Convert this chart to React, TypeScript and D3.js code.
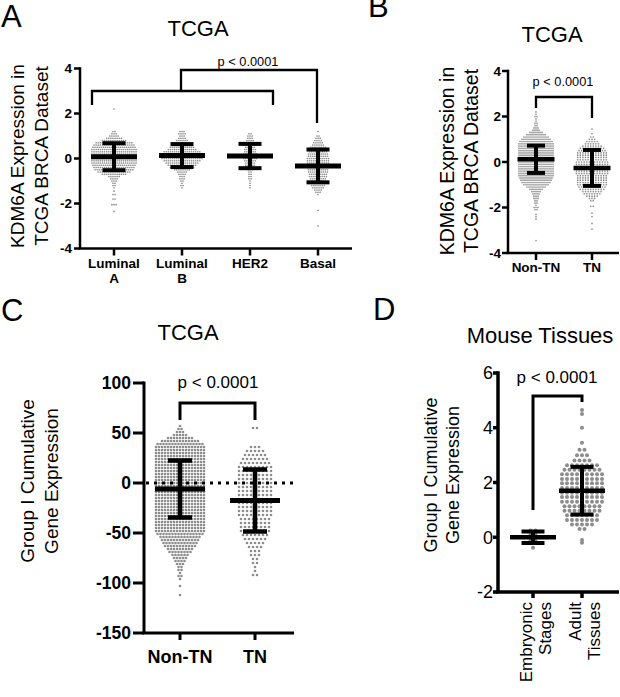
import React from 'react';
import * as d3 from 'd3';

type Bin = [number, number]; // [value, number of dots at that value]

const FONT = '"Liberation Sans", Arial, Helvetica, sans-serif';

// ---------------- Panel A : KDM6A by PAM50 subtype ----------------
const aCategories = ['Luminal A', 'Luminal B', 'HER2', 'Basal'];
const aCategoryLines = [['Luminal', 'A'], ['Luminal', 'B'], ['HER2'], ['Basal']];
const aTicks = [-4, -2, 0, 2, 4];
const aLuminalA: Bin[] = [[2.2,1],[1.2,2],[1.1,3],[1.0,5],[0.9,8],[0.8,12],[0.7,18],[0.6,20],[0.5,21],[0.4,22],[0.3,22],[0.2,22],[0.1,22],[0.0,22],[-0.1,22],[-0.2,22],[-0.3,21],[-0.4,20],[-0.5,19],[-0.6,16],[-0.7,12],[-0.8,6],[-0.9,4],[-1.0,3],[-1.1,2],[-1.2,2],[-1.3,1],[-1.45,1],[-1.6,2],[-1.8,2],[-2.05,3],[-2.35,1]];
const aLuminalB: Bin[] = [[1.2,3],[1.1,4],[1.0,3],[0.9,4],[0.8,6],[0.7,8],[0.6,10],[0.5,12],[0.4,14],[0.3,18],[0.2,20],[0.1,22],[0.0,20],[-0.1,18],[-0.2,16],[-0.3,14],[-0.4,12],[-0.5,8],[-0.6,5],[-0.7,4],[-0.8,3],[-0.9,3],[-1.0,2],[-1.1,1],[-1.2,2],[-1.3,1]];
const aHER2: Bin[] = [[1.1,2],[1.0,3],[0.9,3],[0.8,4],[0.7,5],[0.6,5],[0.5,5],[0.4,6],[0.3,6],[0.2,7],[0.1,7],[0.0,7],[-0.1,6],[-0.2,5],[-0.3,5],[-0.4,4],[-0.5,3],[-0.6,2],[-0.7,2],[-0.8,2],[-0.9,2],[-1.0,1],[-1.1,1],[-1.2,1],[-1.3,1]];
const aBasal: Bin[] = [[1.2,1],[1.0,2],[0.9,3],[0.8,4],[0.7,5],[0.6,6],[0.5,8],[0.4,8],[0.3,9],[0.2,10],[0.1,10],[0.0,11],[-0.1,11],[-0.2,11],[-0.3,12],[-0.4,11],[-0.5,10],[-0.6,10],[-0.7,9],[-0.8,9],[-0.9,8],[-1.0,8],[-1.1,8],[-1.2,7],[-1.3,6],[-1.4,4],[-1.5,3],[-1.6,1],[-2.3,1],[-3.0,1]];
const aMeans = [0.08, 0.13, 0.11, -0.33];
const aSDs = [0.6, 0.51, 0.54, 0.73];

// ---------------- Panel B : Non-TN vs TN ----------------
const bCategories = ['Non-TN', 'TN'];
const bTicks = [-4, -2, 0, 2, 4];
const bNonTN: Bin[] = [[2.2,1],[2.1,1],[2.0,2],[1.9,1],[1.8,1],[1.7,2],[1.6,2],[1.5,3],[1.4,4],[1.3,7],[1.2,10],[1.1,13],[1.0,15],[0.9,17],[0.8,18],[0.7,18],[0.6,18],[0.5,18],[0.4,18],[0.3,18],[0.2,18],[0.1,18],[0.0,18],[-0.1,18],[-0.2,18],[-0.3,18],[-0.4,18],[-0.5,18],[-0.6,18],[-0.7,17],[-0.8,16],[-0.9,15],[-1.0,13],[-1.1,10],[-1.2,7],[-1.3,5],[-1.4,4],[-1.5,3],[-1.6,3],[-1.7,2],[-1.8,2],[-1.9,1],[-2.0,3],[-2.1,2],[-2.3,1],[-2.4,1],[-2.5,1],[-3.45,1]];
const bTN: Bin[] = [[1.45,1],[1.25,1],[1.1,2],[1.0,3],[0.9,5],[0.8,6],[0.7,8],[0.6,10],[0.5,11],[0.4,12],[0.3,12],[0.2,12],[0.1,12],[0.0,13],[-0.1,13],[-0.2,13],[-0.3,13],[-0.4,13],[-0.5,13],[-0.6,12],[-0.7,12],[-0.8,12],[-0.9,12],[-1.0,12],[-1.1,11],[-1.2,10],[-1.3,8],[-1.4,7],[-1.5,5],[-1.6,3],[-1.7,2],[-1.95,2],[-2.25,1],[-2.4,1],[-2.7,1],[-2.95,1]];
const bMeans = [0.12, -0.26];
const bSDs = [0.6, 0.79];

// ---------------- Panel C : Group I cumulative expression, TCGA ----------------
const cCategories = ['Non-TN', 'TN'];
const cTicks = [-150, -100, -50, 0, 50, 100];
const cNonTN: Bin[] = [[57,1],[54,2],[51,3],[48,5],[45,9],[42,13],[39,16],[36,17],[33,17],[30,17],[27,17],[24,17],[21,17],[18,17],[15,17],[12,17],[9,17],[6,17],[3,17],[0,17],[-3,17],[-6,17],[-9,17],[-12,17],[-15,17],[-18,17],[-21,17],[-24,17],[-27,17],[-30,17],[-33,17],[-36,17],[-39,17],[-42,17],[-45,17],[-48,17],[-51,16],[-54,14],[-57,13],[-60,12],[-63,11],[-66,9],[-69,8],[-72,6],[-75,5],[-78,4],[-81,3],[-84,2],[-87,2],[-90,1],[-93,2],[-96,1],[-103,1],[-112,1]];
const cTN: Bin[] = [[55,2],[36,3],[32,5],[28,6],[24,7],[20,8],[16,9],[12,9],[8,9],[4,9],[0,9],[-4,9],[-8,9],[-12,9],[-16,9],[-20,9],[-24,9],[-28,9],[-32,9],[-36,8],[-40,8],[-44,8],[-48,8],[-52,7],[-56,6],[-60,5],[-64,4],[-68,3],[-72,3],[-76,2],[-80,2],[-84,1],[-88,1],[-92,2]];
const cMeans = [-6, -17.5];
const cSDs = [28.5, 31];

// ---------------- Panel D : Mouse tissues ----------------
const dCategories = ['Embryonic Stages', 'Adult Tissues'];
const dCategoryLines = [['Embryonic', 'Stages'], ['Adult', 'Tissues']];
const dTicks = [-2, 0, 2, 4, 6];
const dEmbryonic: Bin[] = [[0.25,2],[0.12,2],[0.0,3],[-0.13,2],[-0.38,1]];
const dAdult: Bin[] = [[4.65,1],[4.5,1],[4.0,1],[3.45,1],[3.2,2],[3.0,3],[2.8,4],[2.63,7],[2.47,8],[2.3,9],[2.13,9],[1.97,9],[1.8,9],[1.63,9],[1.47,9],[1.3,9],[1.13,8],[0.97,8],[0.8,7],[0.63,7],[0.47,5],[0.3,2],[-0.1,1],[-0.2,1]];
const dMeans = [0.0, 1.7];
const dSDs = [0.21, 0.87];

const P_TEXT = 'p < 0.0001';

interface PanelCfg {
  letter: string; letterX: number; letterY: number;
  title: string; titleX: number; titleY: number;
  yLabel: string[]; yLabelX: number[]; yLabelY: number; yLabelSize: number;
  categories: string[]; catLines: string[][];
  groups: Bin[][]; means: number[]; sds: number[];
  ticks: number[]; domain: [number, number]; yRange: [number, number]; xRange: [number, number];
  axisX: number; axisEnd: number; axisW: number; yTickLen: number; xTickLen: number;
  tickSize: number; tickWeight: string; tickLabelGap: number;
  xLabelSize: number; xLabelWeight: string; xLabelY: number; xLabelLineH: number; xRotated?: boolean;
  spacing: number[]; r: number;
  meanW: number; capW: number; meanT: number; capT: number; vertT: number;
}

function Panel({ c, extra }: { c: PanelCfg; extra?: (y: d3.ScaleLinear<number, number>, x: d3.ScalePoint<string>) => React.ReactNode }) {
  const y = d3.scaleLinear().domain(c.domain).range(c.yRange);
  const x = d3.scalePoint<string>().domain(c.categories).range(c.xRange).padding(0);
  const dotColor = '#8d8d8d';
  return (
    <g>
      <text x={c.letterX} y={c.letterY} fontSize={31} fontFamily={FONT}>{c.letter}</text>
      <text x={c.titleX} y={c.titleY} fontSize={22} fontFamily={FONT} textAnchor="middle">{c.title}</text>
      {c.yLabel.map((t, i) => (
        <text key={i} transform={`translate(${c.yLabelX[i]},${c.yLabelY}) rotate(-90)`} fontSize={c.yLabelSize} fontFamily={FONT} textAnchor="middle">{t}</text>
      ))}
      {c.groups.map((bins, gi) => {
        const cx = x(c.categories[gi]) as number;
        const pts: [number, number][] = [];
        bins.forEach(([v, n]) => {
          for (let i = 0; i < n; i++) pts.push([cx + (i - (n - 1) / 2) * c.spacing[gi], y(v)]);
        });
        return (
          <g key={gi} fill={dotColor}>
            {pts.map((p, k) => <circle key={k} cx={p[0]} cy={p[1]} r={c.r} />)}
          </g>
        );
      })}
      {extra ? extra(y, x) : null}
      {c.means.map((m, gi) => {
        const cx = x(c.categories[gi]) as number;
        const hi = y(m + c.sds[gi]);
        const lo = y(m - c.sds[gi]);
        return (
          <g key={gi} stroke="#000">
            <line x1={cx} x2={cx} y1={hi} y2={lo} strokeWidth={c.vertT} />
            <line x1={cx - c.capW / 2} x2={cx + c.capW / 2} y1={hi} y2={hi} strokeWidth={c.capT} />
            <line x1={cx - c.capW / 2} x2={cx + c.capW / 2} y1={lo} y2={lo} strokeWidth={c.capT} />
            <line x1={cx - c.meanW / 2} x2={cx + c.meanW / 2} y1={y(m)} y2={y(m)} strokeWidth={c.meanT} />
          </g>
        );
      })}
      <g stroke="#000" strokeWidth={c.axisW}>
        <line x1={c.axisX} x2={c.axisX} y1={y(c.domain[1]) - c.axisW / 2} y2={y(c.domain[0])} />
        <line x1={c.axisX - c.axisW / 2} x2={c.axisEnd} y1={y(c.domain[0])} y2={y(c.domain[0])} />
        {c.ticks.map((t) => (
          <line key={t} x1={c.axisX - c.yTickLen} x2={c.axisX} y1={y(t)} y2={y(t)} />
        ))}
        {c.categories.map((k) => (
          <line key={k} x1={x(k)} x2={x(k)} y1={y(c.domain[0])} y2={y(c.domain[0]) + c.xTickLen} />
        ))}
      </g>
      {c.ticks.map((t) => (
        <text key={t} x={c.axisX - c.yTickLen - c.tickLabelGap} y={y(t)} dy="0.36em" textAnchor="end"
          fontSize={c.tickSize} fontWeight={c.tickWeight} fontFamily={FONT}>{t}</text>
      ))}
      {c.categories.map((k, i) => {
        const cx = x(k) as number;
        if (c.xRotated) {
          return (
            <g key={k}>
              {c.catLines[i].map((ln, j) => (
                <text key={j} transform={`translate(${cx - 1 + j * c.xLabelLineH},${c.xLabelY}) rotate(-90)`} textAnchor="end"
                  fontSize={c.xLabelSize} fontWeight={c.xLabelWeight} fontFamily={FONT}>{ln}</text>
              ))}
            </g>
          );
        }
        return (
          <text key={k} textAnchor="middle" fontSize={c.xLabelSize} fontWeight={c.xLabelWeight} fontFamily={FONT}>
            {c.catLines[i].map((ln, j) => (
              <tspan key={j} x={cx} y={c.xLabelY + j * c.xLabelLineH}>{ln}</tspan>
            ))}
          </text>
        );
      })}
    </g>
  );
}

export default function App() {
  const A: PanelCfg = {
    letter: 'A', letterX: 1, letterY: 27, title: 'TCGA', titleX: 198, titleY: 36,
    yLabel: ['KDM6A Expression in', 'TCGA BRCA Dataset'], yLabelX: [24, 48], yLabelY: 156, yLabelSize: 19,
    categories: aCategories, catLines: aCategoryLines, groups: [aLuminalA, aLuminalB, aHER2, aBasal],
    means: aMeans, sds: aSDs, ticks: aTicks, domain: [-4, 4], yRange: [248.5, 68.5], xRange: [114, 318],
    axisX: 80, axisEnd: 352, axisW: 2.5, yTickLen: 6, xTickLen: 7, tickSize: 13.5, tickWeight: 'bold', tickLabelGap: 2,
    xLabelSize: 13.5, xLabelWeight: 'bold', xLabelY: 268, xLabelLineH: 15,
    spacing: [2.1, 2.1, 2.1, 2.1], r: 0.85, meanW: 46, capW: 23, meanT: 5, capT: 4, vertT: 4,
  };
  const B: PanelCfg = {
    letter: 'B', letterX: 368, letterY: 17, title: 'TCGA', titleX: 552, titleY: 42,
    yLabel: ['KDM6A Expression in', 'TCGA BRCA Dataset'], yLabelX: [454, 478], yLabelY: 161, yLabelSize: 19.5,
    categories: bCategories, catLines: [['Non-TN'], ['TN']], groups: [bNonTN, bTN],
    means: bMeans, sds: bSDs, ticks: bTicks, domain: [-4, 4], yRange: [253, 71], xRange: [536, 592],
    axisX: 508, axisEnd: 619, axisW: 2.5, yTickLen: 6, xTickLen: 7, tickSize: 13.5, tickWeight: 'bold', tickLabelGap: 1,
    xLabelSize: 13.5, xLabelWeight: 'bold', xLabelY: 272, xLabelLineH: 15,
    spacing: [2.0, 2.6], r: 0.85, meanW: 37, capW: 18, meanT: 4.5, capT: 4, vertT: 4,
  };
  const C: PanelCfg = {
    letter: 'C', letterX: 1, letterY: 321, title: 'TCGA', titleX: 188, titleY: 340,
    yLabel: ['Group I Cumulative', 'Gene Expression'], yLabelX: [34, 58], yLabelY: 481, yLabelSize: 19,
    categories: cCategories, catLines: [['Non-TN'], ['TN']], groups: [cNonTN, cTN],
    means: cMeans, sds: cSDs, ticks: cTicks, domain: [-150, 100], yRange: [633, 383], xRange: [180, 255],
    axisX: 144, axisEnd: 294, axisW: 3, yTickLen: 11, xTickLen: 7, tickSize: 17.5, tickWeight: 'bold', tickLabelGap: 2,
    xLabelSize: 18, xLabelWeight: 'bold', xLabelY: 663, xLabelLineH: 18,
    spacing: [3.0, 4.0], r: 1.3, meanW: 50, capW: 24, meanT: 5, capT: 4.5, vertT: 4.5,
  };
  const D: PanelCfg = {
    letter: 'D', letterX: 373, letterY: 320, title: 'Mouse Tissues', titleX: 540, titleY: 343,
    yLabel: ['Group I Cumulative', 'Gene Expression'], yLabelX: [437, 459], yLabelY: 475, yLabelSize: 18,
    categories: dCategories, catLines: dCategoryLines, groups: [dEmbryonic, dAdult],
    means: dMeans, sds: dSDs, ticks: dTicks, domain: [-2, 6], yRange: [592, 373], xRange: [533, 582],
    axisX: 498, axisEnd: 619, axisW: 3.5, yTickLen: 5, xTickLen: 6, tickSize: 18, tickWeight: 'normal', tickLabelGap: 0,
    xLabelSize: 17, xLabelWeight: 'normal', xLabelY: 602, xLabelLineH: 18.5, xRotated: true,
    spacing: [5, 5], r: 2, meanW: 46, capW: 23, meanT: 4.5, capT: 4, vertT: 4,
  };

  const pText = (cx: number, by: number, size: number) => (
    <text x={cx} y={by} textAnchor="middle" fontSize={size} fontFamily={FONT}>{P_TEXT}</text>
  );

  return (
    <svg width={620} height={697} viewBox="0 0 620 697" style={{ position: 'absolute', left: 0, top: 0, background: '#fff' }}>
      <rect width={620} height={697} fill="#fff" />
      <Panel c={A} />
      <Panel c={B} />
      <Panel c={C} extra={(y) => (
        <line x1={146} x2={294} y1={y(0)} y2={y(0)} stroke="#000" strokeWidth={3} strokeDasharray="3 5" />
      )} />
      <Panel c={D} />
      <g fill="none" stroke="#000" strokeLinejoin="miter">
        <path d="M92,105 V91 H273 V105" strokeWidth={2.3} />
        <path d="M181,91 V70 H317 V123" strokeWidth={2.3} />
        <path d="M536,108 V97 H592 V118" strokeWidth={2.3} />
        <path d="M180,420 V403 H255 V420" strokeWidth={3} />
        <path d="M533,510 V396 H582 V402" strokeWidth={3} />
      </g>
      {pText(248, 66, 12.8)}
      {pText(563, 86, 12.8)}
      {pText(218, 388, 17)}
      {pText(557, 383, 17)}
    </svg>
  );
}
